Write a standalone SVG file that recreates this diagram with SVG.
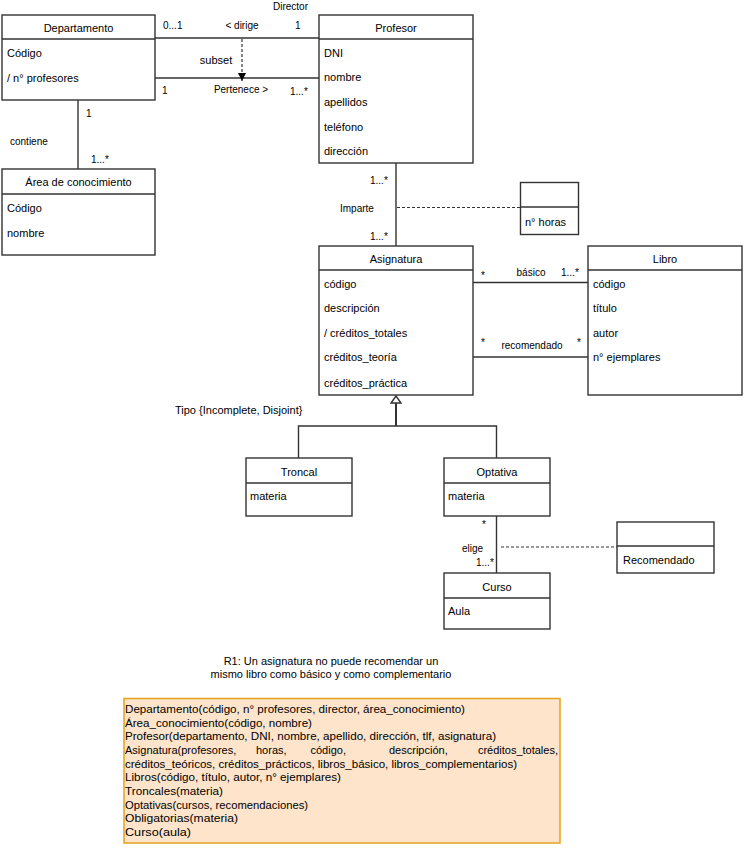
<svg xmlns="http://www.w3.org/2000/svg" width="744" height="848" viewBox="0 0 744 848">
<style>
.box{fill:#fff;stroke:#333;stroke-width:1.4}
.div{stroke:#333;stroke-width:1.4}
.t{font-family:"Liberation Sans",Arial,sans-serif;font-size:11px;fill:#000}
.h{font-family:"Liberation Sans",Arial,sans-serif;font-size:11px;fill:#000;text-anchor:middle}
.l{font-family:"Liberation Sans",Arial,sans-serif;font-size:10px;fill:#000}
.lc{font-family:"Liberation Sans",Arial,sans-serif;font-size:10px;fill:#000;text-anchor:middle}
.ln{fill:none;stroke:#333;stroke-width:1.4}
.dash{fill:none;stroke:#333;stroke-width:1.2;stroke-dasharray:3,2}
.b{font-family:"Liberation Sans",Arial,sans-serif;font-size:11px;fill:#000}
</style>
<defs>
<marker id="arr" viewBox="0 0 10 10" refX="10" refY="5" markerWidth="8" markerHeight="8" orient="auto" markerUnits="userSpaceOnUse">
<path d="M0,0 L10,5 L0,10 z" fill="#000"/>
</marker>
</defs>

<g id="connectors">
<line class="ln" x1="155" y1="38" x2="319" y2="38"/>
<line class="ln" x1="155" y1="78" x2="319" y2="78"/>
<line class="dash" x1="242" y1="39" x2="242" y2="81" marker-end="url(#arr)"/>
<line class="ln" x1="78" y1="100" x2="78" y2="169"/>
<line class="ln" x1="396" y1="163" x2="396" y2="246"/>
<line class="dash" x1="397" y1="207.5" x2="520" y2="207.5"/>
<line class="ln" x1="473" y1="282.5" x2="588" y2="282.5"/>
<line class="ln" x1="473" y1="357" x2="588" y2="357"/>
<path d="M396,396 L391,403 L401,403 z" fill="#fff" stroke="#333" stroke-width="1.4"/>
<line x1="396" y1="403" x2="396" y2="426" stroke="#333" stroke-width="2"/>
<polyline class="ln" points="298.5,458 298.5,426 496.5,426 496.5,458"/>
<line class="ln" x1="496.5" y1="516" x2="496.5" y2="573"/>
<line class="dash" x1="501" y1="547" x2="617" y2="547"/>
<text class="l" x="273" y="10">Director</text>
<text class="l" x="163" y="29">0...1</text>
<text class="lc" x="242" y="29">&lt; dirige</text>
<text class="l" x="295" y="29">1</text>
<text class="h" x="216" y="64">subset</text>
<text class="l" x="162" y="94">1</text>
<text class="lc" x="241" y="93">Pertenece &gt;</text>
<text class="l" x="290" y="95">1...*</text>
<text class="l" x="86" y="117">1</text>
<text class="l" x="10" y="145">contiene</text>
<text class="l" x="91" y="163">1...*</text>
<text class="l" x="370" y="184">1...*</text>
<text class="l" x="340" y="212">Imparte</text>
<text class="l" x="370" y="240">1...*</text>
<text class="l" x="481" y="279">*</text>
<text class="lc" x="531" y="276">básico</text>
<text class="l" x="561" y="276">1...*</text>
<text class="l" x="481" y="346">*</text>
<text class="lc" x="532" y="349">recomendado</text>
<text class="l" x="577" y="346">*</text>
<text class="t" x="175" y="414">Tipo {Incomplete, Disjoint}</text>
<text class="l" x="482" y="528">*</text>
<text class="l" x="462" y="552">elige</text>
<text class="l" x="476" y="566">1...*</text>
</g>

<g id="departamento">
<rect class="box" x="2" y="15" width="153" height="85"/>
<line class="div" x1="2" y1="39" x2="155" y2="39"/>
<text class="h" x="78.5" y="32">Departamento</text>
<text class="t" x="7" y="57">Código</text>
<text class="t" x="7" y="82">/ n° profesores</text>
</g>

<g id="profesor">
<rect class="box" x="319" y="15" width="154" height="148"/>
<line class="div" x1="319" y1="39" x2="473" y2="39"/>
<text class="h" x="396" y="32">Profesor</text>
<text class="t" x="324" y="57">DNI</text>
<text class="t" x="324" y="81">nombre</text>
<text class="t" x="324" y="105.5">apellidos</text>
<text class="t" x="324" y="130.5">teléfono</text>
<text class="t" x="324" y="155">dirección</text>
</g>

<g id="area">
<rect class="box" x="2" y="169" width="153" height="86"/>
<line class="div" x1="2" y1="194" x2="155" y2="194"/>
<text class="h" x="78.5" y="186">Área de conocimiento</text>
<text class="t" x="7" y="211.5">Código</text>
<text class="t" x="7" y="237">nombre</text>
</g>

<g id="imparte-clase">
<rect class="box" x="520.5" y="182.5" width="58" height="52"/>
<line class="div" x1="520.5" y1="207" x2="578.5" y2="207"/>
<text class="t" x="525" y="225.5">n° horas</text>
</g>

<g id="asignatura">
<rect class="box" x="319" y="246" width="154" height="149"/>
<line class="div" x1="319" y1="270" x2="473" y2="270"/>
<text class="h" x="396" y="263">Asignatura</text>
<text class="t" x="324" y="288">código</text>
<text class="t" x="324" y="311.5">descripción</text>
<text class="t" x="324" y="336.5">/ créditos_totales</text>
<text class="t" x="324" y="361">créditos_teoría</text>
<text class="t" x="324" y="386.5">créditos_práctica</text>
</g>

<g id="libro">
<rect class="box" x="588" y="246" width="154" height="149"/>
<line class="div" x1="588" y1="270" x2="742" y2="270"/>
<text class="h" x="665" y="263">Libro</text>
<text class="t" x="593" y="288">código</text>
<text class="t" x="593" y="311.5">título</text>
<text class="t" x="593" y="336.5">autor</text>
<text class="t" x="593" y="361">n° ejemplares</text>
</g>

<g id="troncal">
<rect class="box" x="246" y="458" width="106" height="58"/>
<line class="div" x1="246" y1="483" x2="352" y2="483"/>
<text class="h" x="299" y="475.5">Troncal</text>
<text class="t" x="250" y="500">materia</text>
</g>

<g id="optativa">
<rect class="box" x="444" y="458" width="106" height="58"/>
<line class="div" x1="444" y1="483" x2="550" y2="483"/>
<text class="h" x="497" y="475.5">Optativa</text>
<text class="t" x="448" y="500">materia</text>
</g>

<g id="recomendado-clase">
<rect class="box" x="617" y="522" width="97" height="51"/>
<line class="div" x1="617" y1="546" x2="714" y2="546"/>
<text class="t" x="623" y="564">Recomendado</text>
</g>

<g id="curso">
<rect class="box" x="444" y="573" width="106" height="56"/>
<line class="div" x1="444" y1="598" x2="550" y2="598"/>
<text class="h" x="497" y="590.5">Curso</text>
<text class="t" x="448" y="614.5">Aula</text>
</g>

<g id="nota-r1">
<text class="h" x="331" y="664.5">R1: Un asignatura no puede recomendar un</text>
<text class="h" x="331" y="677.5">mismo libro como básico y como complementario</text>
</g>

<g id="esquema">
<rect x="124" y="698.5" width="436" height="144.5" fill="#fde4cb" stroke="#e5a21c" stroke-width="1.5"/>
<text class="b" x="125" y="713" textLength="340" lengthAdjust="spacingAndGlyphs">Departamento(código, n° profesores, director, área_conocimiento)</text>
<text class="b" x="125" y="726.7" textLength="187" lengthAdjust="spacingAndGlyphs">Área_conocimiento(código, nombre)</text>
<text class="b" x="125" y="740.3" textLength="371" lengthAdjust="spacingAndGlyphs">Profesor(departamento, DNI, nombre, apellido, dirección, tlf, asignatura)</text>
<text class="b" x="125" y="754">Asignatura(profesores,</text>
<text class="b" x="256" y="754">horas,</text>
<text class="b" x="310.5" y="754">código,</text>
<text class="b" x="389" y="754">descripción,</text>
<text class="b" x="558" y="754" text-anchor="end">créditos_totales,</text>
<text class="b" x="125" y="767.7" textLength="392" lengthAdjust="spacingAndGlyphs">créditos_teóricos, créditos_prácticos, libros_básico, libros_complementarios)</text>
<text class="b" x="125" y="781.3" textLength="216" lengthAdjust="spacingAndGlyphs">Libros(código, título, autor, n° ejemplares)</text>
<text class="b" x="125" y="795" textLength="98" lengthAdjust="spacingAndGlyphs">Troncales(materia)</text>
<text class="b" x="125" y="808.7" textLength="183" lengthAdjust="spacingAndGlyphs">Optativas(cursos, recomendaciones)</text>
<text class="b" x="125" y="822.3" textLength="113" lengthAdjust="spacingAndGlyphs">Obligatorias(materia)</text>
<text class="b" x="125" y="836" textLength="66" lengthAdjust="spacingAndGlyphs">Curso(aula)</text>
</g>
</svg>
